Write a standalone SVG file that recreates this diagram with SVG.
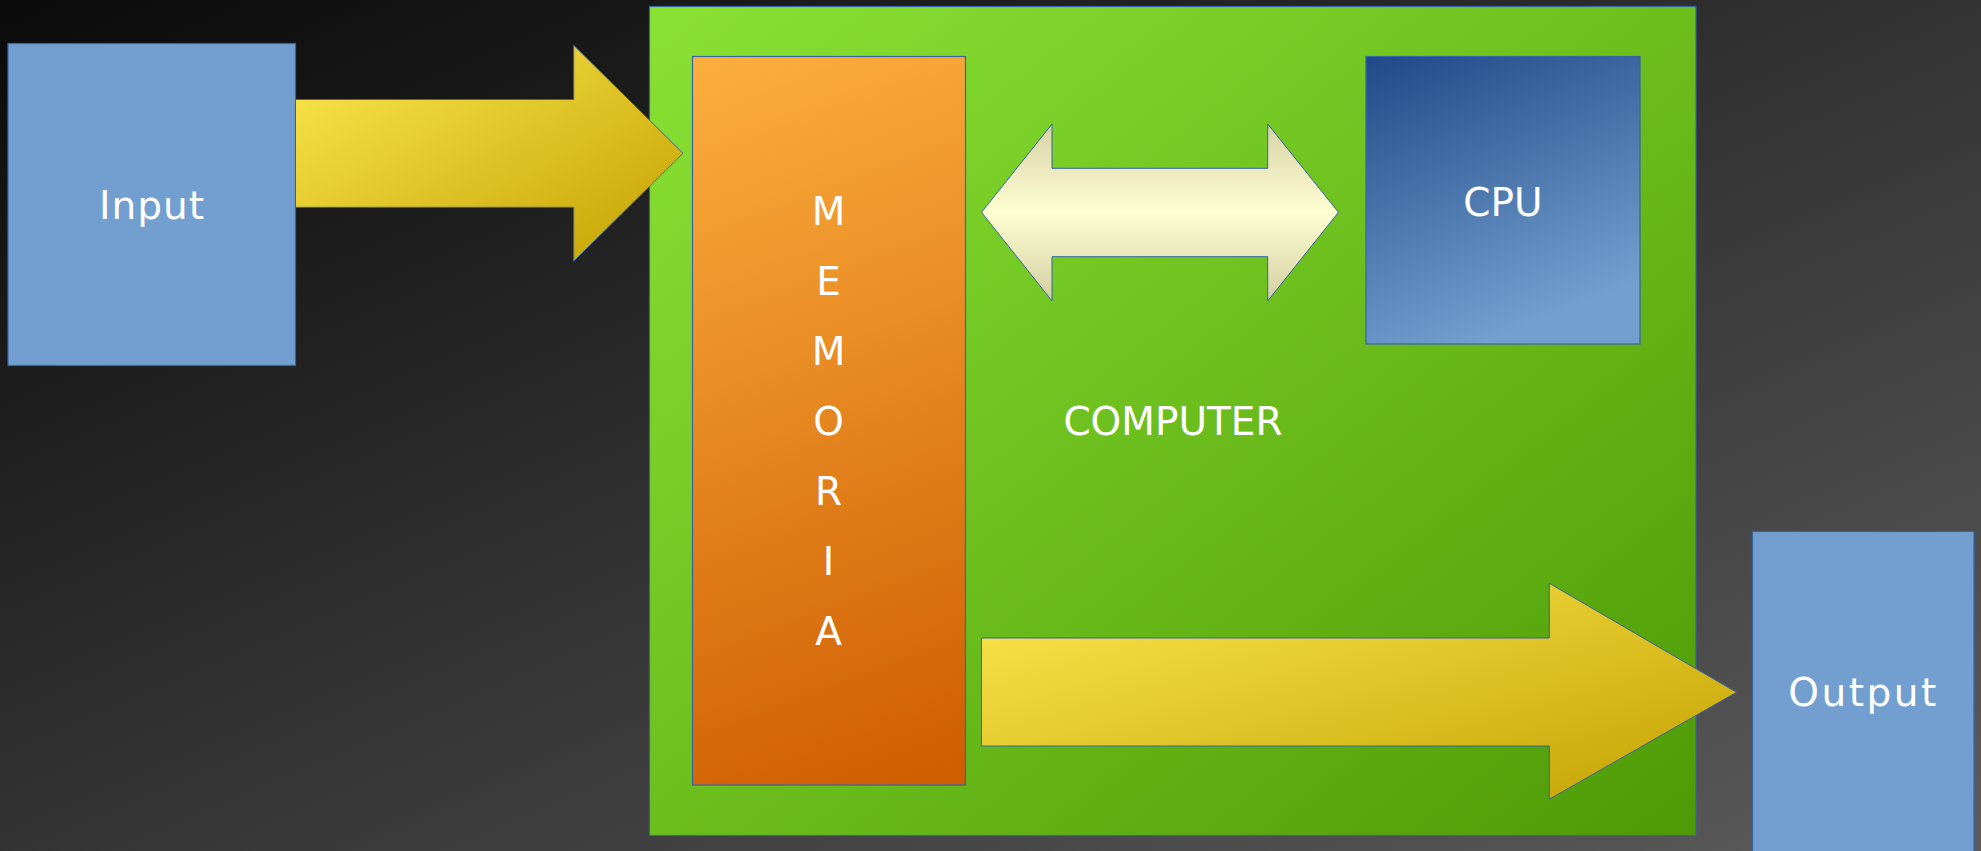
<svg xmlns="http://www.w3.org/2000/svg" width="1981" height="851" viewBox="0 0 1981 851">
  <defs>
    <linearGradient id="bg" x1="0" y1="0" x2="1" y2="1">
      <stop offset="0" stop-color="#0a0a0a"/>
      <stop offset="1" stop-color="#5c5c5c"/>
    </linearGradient>
    <linearGradient id="green" x1="0" y1="0" x2="1" y2="1">
      <stop offset="0" stop-color="#8ae234"/>
      <stop offset="1" stop-color="#4e9a06"/>
    </linearGradient>
    <linearGradient id="orange" gradientUnits="userSpaceOnUse" x1="692" y1="56" x2="965" y2="785">
      <stop offset="0" stop-color="#fcaf3e"/>
      <stop offset="1" stop-color="#ce5c00"/>
    </linearGradient>
    <linearGradient id="blue" gradientUnits="userSpaceOnUse" x1="1366" y1="56" x2="1480" y2="344">
      <stop offset="0" stop-color="#204a87"/>
      <stop offset="1" stop-color="#729fcf"/>
    </linearGradient>
    <linearGradient id="butter" x1="0" y1="0" x2="1" y2="1">
      <stop offset="0" stop-color="#fce94f"/>
      <stop offset="1" stop-color="#c4a000"/>
    </linearGradient>
    <linearGradient id="cream" x1="0" y1="0" x2="0" y2="1">
      <stop offset="0" stop-color="#d6d2a6"/>
      <stop offset="0.5" stop-color="#ffffd2"/>
      <stop offset="1" stop-color="#d2cea2"/>
    </linearGradient>
  </defs>
  <style>
    .box { stroke: #3465a4; stroke-width: 1.2; }
    .arrow { stroke: #3465a4; stroke-width: 1; }
    .label { font-family: "DejaVu Sans", sans-serif; fill: #ffffff; text-anchor: middle; font-size: 39px; }
  </style>

  <rect x="0" y="0" width="1981" height="851" fill="url(#bg)"/>

  <g id="computer">
    <rect class="box" x="649.5" y="6.5" width="1046.5" height="829" fill="url(#green)"/>
    <text class="label" x="1173" y="435" font-size="40">COMPUTER</text>
  </g>

  <g id="input">
    <rect class="box" x="8" y="43.5" width="287.5" height="322" fill="#729fcf"/>
    <text class="label" x="152" y="219" letter-spacing="1">Input</text>
  </g>

  <g id="memoria">
    <rect class="box" x="692.5" y="56.5" width="273" height="728.5" fill="url(#orange)"/>
    <g class="label" font-size="41">
      <text x="828.5" y="225">M</text>
      <text x="828.5" y="295">E</text>
      <text x="828.5" y="365">M</text>
      <text x="828.5" y="435">O</text>
      <text x="828.5" y="505">R</text>
      <text x="828.5" y="575">I</text>
      <text x="828.5" y="645">A</text>
    </g>
  </g>

  <g id="cpu">
    <rect class="box" x="1366" y="56.5" width="274" height="287.5" fill="url(#blue)"/>
    <text class="label" x="1503" y="215.5">CPU</text>
  </g>

  <g id="output">
    <rect class="box" x="1752.5" y="531.5" width="221.5" height="330" fill="#729fcf"/>
    <text class="label" x="1863.5" y="705.5" letter-spacing="2.5">Output</text>
  </g>

  <g id="connectors">
    <!-- Input to memory -->
    <polygon class="arrow" fill="url(#butter)" points="295.5,99.5 573.7,99.5 573.7,45.3 683,153.3 573.7,261.3 573.7,207.3 295.5,207.3"/>
    <!-- Memory to CPU, both ways -->
    <polygon class="arrow" fill="url(#cream)" points="981.5,212.3 1052,124 1052,168.3 1267.7,168.3 1267.7,124 1338.5,212.3 1267.7,301 1267.7,256.7 1052,256.7 1052,301"/>
    <!-- Memory to output -->
    <polygon class="arrow" fill="url(#butter)" points="981.5,638 1549.3,638 1549.3,583.3 1736.5,692.3 1549.3,799.3 1549.3,746 981.5,746"/>
  </g>
</svg>
